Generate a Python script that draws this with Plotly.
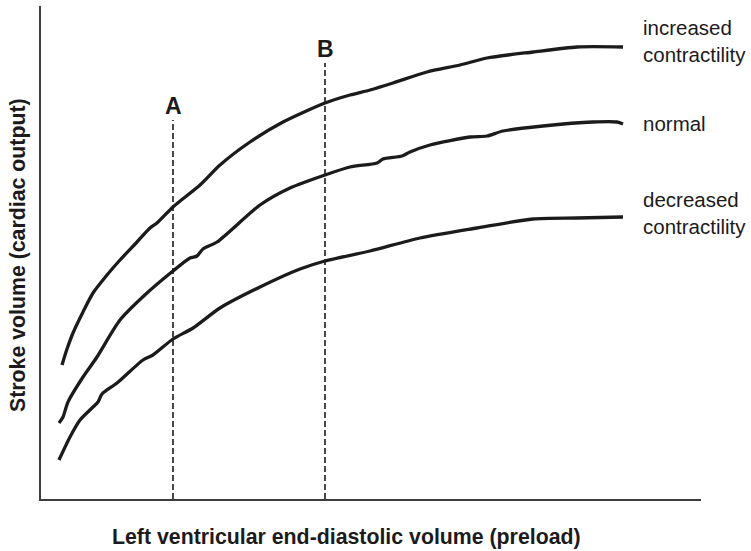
import plotly.graph_objects as go

# Data (arbitrary units)
inc_x = [21, 26, 32, 42, 52, 66, 79, 96, 109, 116, 132, 159, 179, 209, 242, 284, 309, 329, 352, 386, 419, 446, 492, 536, 582]
inc_y = [134, 150, 166, 187, 206, 224, 239, 257, 271, 276, 292, 314, 334, 357, 377, 396, 404, 409, 416, 427, 434, 441, 447, 452, 452]

norm_x = [18, 22, 27, 42, 56, 79, 106, 132, 149, 156, 162, 176, 219, 249, 284, 309, 336, 342, 361, 369, 389, 429, 446, 462, 502, 552, 576, 582]
norm_y = [76, 82, 97, 122, 142, 179, 206, 228, 241, 243, 250, 257, 294, 311, 324, 332, 336, 340, 343, 347, 354, 362, 363, 368, 373, 377, 377, 375]

dec_x = [18, 29, 39, 51, 57, 61, 76, 102, 112, 132, 152, 179, 219, 259, 284, 329, 379, 436, 492, 536, 582]
dec_y = [39, 62, 79, 91, 97, 105, 116, 139, 144, 160, 171, 191, 212, 230, 238, 248, 261, 271, 280, 281, 282]

markers_x = [132, 284]
markers_top = [379, 436]
marker_labels = ["A", "B"]

curve_labels = ["increased<br>contractility", "normal", "decreased<br>contractility"]
curve_label_y = [458, 376, 286]
label_x = 600

FONT = "Liberation Sans, Arial, Helvetica, sans-serif"
INK = "#1c1a1b"

fig = go.Figure()
for xs, ys in [(inc_x, inc_y), (norm_x, norm_y), (dec_x, dec_y)]:
    fig.add_trace(go.Scatter(x=xs, y=ys, mode="lines",
                             line=dict(color=INK, width=3.3, shape="spline", smoothing=0.7),
                             hoverinfo="skip", showlegend=False))

for mx, mt, ml in zip(markers_x, markers_top, marker_labels):
    fig.add_trace(go.Scatter(x=[mx, mx], y=[0, mt], mode="lines",
                             line=dict(color=INK, width=1.6, dash="6px,3px"),
                             hoverinfo="skip", showlegend=False))
    fig.add_annotation(x=mx, y=mt + 14, text="<b>" + ml + "</b>", showarrow=False,
                       xanchor="center", yanchor="middle",
                       font=dict(family=FONT, size=23, color=INK))

for t, yy in zip(curve_labels, curve_label_y):
    fig.add_annotation(x=label_x, y=yy, text=t, showarrow=False, xanchor="left",
                       yanchor="middle", align="left",
                       font=dict(family=FONT, size=20.5, color=INK))

fig.add_annotation(xref="paper", yref="paper", x=(346.5 - 41) / 660, y=(499 - 537) / 493,
                   text="<b>Left ventricular end-diastolic volume (preload)</b>",
                   showarrow=False, xanchor="center", yanchor="middle",
                   font=dict(family=FONT, size=21.3, color=INK))
fig.add_annotation(xref="paper", yref="paper", x=(18 - 41) / 660, y=(499 - 255) / 493,
                   text="<b>Stroke volume (cardiac output)</b>", textangle=-90,
                   showarrow=False, xanchor="center", yanchor="middle",
                   font=dict(family=FONT, size=21.3, color=INK))

fig.update_layout(
    width=751, height=551,
    margin=dict(l=41, r=50, t=6, b=52),
    paper_bgcolor="white", plot_bgcolor="white",
    xaxis=dict(range=[0, 660], showline=True, linecolor="#3d3d3d", linewidth=2,
               showgrid=False, zeroline=False, showticklabels=False, ticks="", fixedrange=True),
    yaxis=dict(range=[0, 493], showline=True, linecolor="#3d3d3d", linewidth=2,
               showgrid=False, zeroline=False, showticklabels=False, ticks="", fixedrange=True),
    font=dict(family=FONT),
)

fig.write_html("out.html", config={"displayModeBar": False},
               post_script="document.body.style.margin='0';document.body.style.overflow='hidden';")
